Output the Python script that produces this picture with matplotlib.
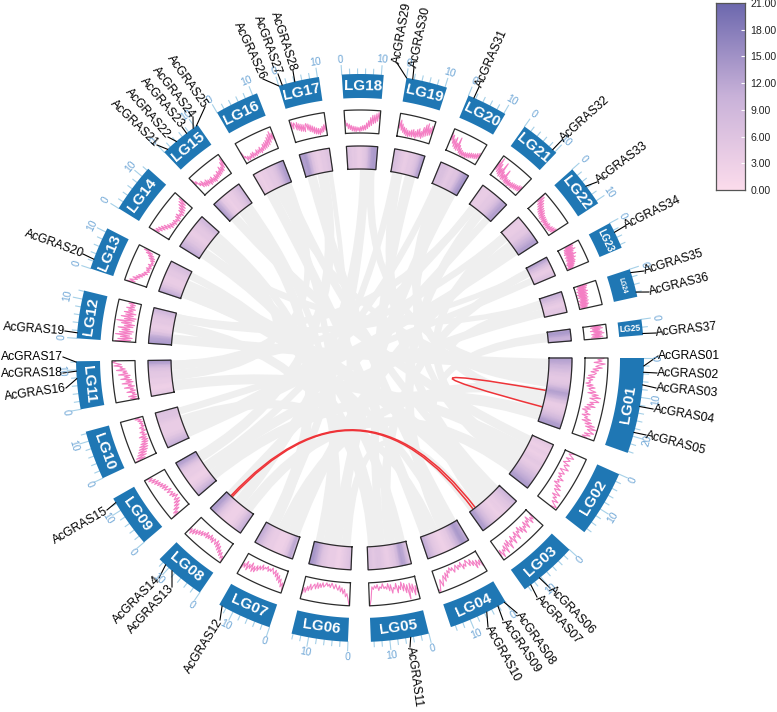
import numpy as np
import matplotlib
matplotlib.use("Agg")
import matplotlib.pyplot as plt
from matplotlib.colors import LinearSegmentedColormap
from matplotlib.path import Path
from matplotlib.patches import PathPatch

plt.rcParams["font.family"] = ["Liberation Sans", "DejaVu Sans"]

# chromosome names and lengths (Mb)
sectors = ["LG%02d" % i for i in range(1, 26)]
lengths = [24.4, 17.1, 15.1, 15.2, 14.8, 14.4, 13.9, 13.2, 13.5, 12.5, 12.2, 12.2, 11.0,
           12.5, 10.9, 11.2, 10.4, 10.6, 10.5, 10.4, 10.4, 10.8, 6.9, 7.2, 4.0]

# line track, first value is the clockwise start of the sector
line_lg01 = [82, 56, 74, 40, 88, 62, 48, 76, 36, 60, 28, 52, 44, 18, 46, 12, 38, 22, 30, 10, 42, 16, 52, 26, 36, 58,
             24, 70, 44, 82, 36, 62, 78, 40, 58, 30, 66, 22, 48, 14, 38, 28, 52, 18, 44, 32, 60, 24, 68, 40, 84, 46,
             96, 58, 72, 90, 50, 78, 44, 66]
line_lg02 = [44, 22, 36, 50, 18, 40, 28, 14, 46, 24, 34, 52, 16, 30, 44, 20, 38, 26, 54, 30, 42, 22, 58, 34, 66, 40,
             54, 78, 44, 70, 56, 88, 62, 76, 96, 70]
line_lg03 = [22, 50, 34, 60, 18, 44, 30, 64, 26, 52, 40, 70, 32, 58, 24, 48, 36, 72, 30, 54, 44, 76, 34, 60, 48, 84,
             36, 66, 42, 88, 48, 72, 60, 92, 54, 82]
line_lg04 = [72, 40, 62, 34, 68, 30, 50, 18, 44, 26, 12, 38, 24, 44, 10, 30, 18, 36, 12, 26, 40, 16, 28, 12, 34, 20,
             50, 26, 62, 34, 54, 78, 46, 70, 96, 84]
line_lg05 = [72, 40, 80, 30, 66, 24, 92, 28, 62, 20, 52, 12, 44, 26, 56, 14, 38, 30, 54, 16, 42, 10, 34, 22, 30, 8,
             28, 20, 36, 10, 26, 14, 30, 18, 72, 100]
line_lg06 = [98, 72, 48, 62, 30, 50, 24, 42, 16, 36, 26, 12, 32, 20, 8, 28, 14, 24, 10, 22, 30, 12, 34, 18, 40, 16,
             44, 24, 34, 52, 28, 58, 40, 68, 48, 78]
line_lg07 = [86, 56, 76, 42, 62, 30, 54, 22, 42, 14, 34, 24, 10, 28, 18, 32, 12, 26, 20, 36, 14, 40, 24, 50, 28, 60,
             36, 64, 26, 56, 38, 68, 30, 62, 44, 70]
line_lg08 = [92, 70, 84, 58, 78, 52, 70, 40, 64, 34, 56, 26, 50, 38, 28, 52, 30, 46, 24, 48, 32, 52, 26, 50, 36, 58,
             38, 62, 44, 70, 50, 78, 54, 84, 62, 76]
line_lg09 = [84, 56, 76, 42, 66, 32, 54, 20, 46, 14, 38, 26, 12, 36, 18, 42, 22, 30, 44, 20, 36, 48, 26, 52, 30, 56,
             38, 62, 44, 70, 48, 78, 56, 86, 66, 90]
line_lg10 = [96, 50, 88, 40, 78, 34, 70, 26, 62, 20, 56, 18, 46, 12, 38, 8, 34, 12, 42, 6, 26, 14, 32, 4, 22, 10,
             28, 4, 18, 8, 22, 6, 26, 10, 36, 14]
line_lg11 = [4, 34, 8, 42, 6, 24, 12, 46, 8, 30, 16, 54, 10, 36, 22, 62, 14, 44, 20, 66, 28, 50, 24, 74, 34, 54,
             38, 82, 44, 66, 56, 92, 60, 80, 98, 84]
line_lg12 = [88, 22, 78, 16, 68, 28, 90, 20, 74, 14, 64, 30, 82, 18, 56, 12, 70, 26, 92, 16, 60, 10, 76, 24, 58, 14,
             66, 28, 50, 20, 60, 26, 46, 24, 54, 30]
line_lg13 = [88, 54, 80, 62, 48, 70, 40, 58, 30, 50, 24, 38, 14, 32, 20, 10, 26, 12, 30, 8, 22, 12, 28, 6, 18, 10,
             26, 8, 36, 12, 44, 20, 58, 30, 72, 46]
line_lg14 = [80, 52, 72, 44, 66, 36, 58, 28, 50, 20, 40, 12, 34, 14, 28, 8, 30, 12, 24, 6, 32, 10, 36, 14, 26, 8,
             38, 12, 44, 16, 54, 22, 62, 30, 70, 36]
line_lg15 = [84, 58, 70, 42, 54, 28, 56, 24, 44, 18, 48, 20, 40, 12, 38, 16, 42, 14, 32, 10, 40, 16, 36, 18, 46, 20,
             42, 22, 56, 26, 50, 28, 68, 38, 82, 48]
line_lg16 = [52, 24, 30, 8, 26, 6, 22, 10, 30, 6, 32, 10, 24, 8, 34, 12, 30, 14, 38, 10, 32, 16, 44, 18, 48, 20,
             54, 24, 64, 28, 74, 36, 84, 46, 72, 40]
line_lg17 = [62, 90, 58, 84, 76, 50, 82, 46, 74, 40, 70, 38, 66, 34, 62, 68, 38, 64, 30, 58, 26, 52, 18, 46, 14, 40,
             12, 36, 8, 34, 14, 42, 18, 48, 24, 54]
line_lg18 = [56, 32, 44, 20, 40, 16, 34, 10, 30, 8, 28, 6, 26, 10, 24, 6, 28, 10, 32, 12, 34, 14, 44, 20, 54, 28,
             68, 34, 78, 42, 80, 46, 86, 54, 92, 66]
line_lg19 = [66, 36, 72, 28, 56, 20, 44, 14, 40, 8, 34, 6, 32, 10, 38, 8, 42, 12, 36, 6, 46, 14, 52, 16, 42, 12,
             62, 20, 76, 26, 84, 32, 68, 36, 78, 42]
line_lg20 = [82, 50, 74, 38, 60, 26, 70, 20, 48, 16, 76, 18, 44, 10, 34, 6, 28, 4, 24, 6, 26, 4, 28, 8, 32, 10,
             36, 14, 38, 18, 42, 20, 48, 24, 54, 30]
line_lg21 = [72, 32, 92, 26, 68, 20, 52, 14, 84, 16, 46, 10, 38, 12, 64, 10, 34, 6, 30, 8, 32, 6, 28, 10, 32, 8,
             34, 12, 36, 14, 38, 16, 44, 18, 46, 22]
line_lg22 = [92, 50, 84, 42, 74, 36, 66, 28, 58, 22, 52, 18, 48, 14, 42, 10, 36, 12, 34, 6, 32, 10, 30, 6, 28, 8,
             32, 6, 28, 8, 34, 10, 38, 14, 42, 18]
line_lg23 = [72, 32, 68, 24, 64, 22, 72, 20, 60, 16, 56, 22, 66, 14, 52, 18, 58, 12, 48, 16, 50, 10, 46, 6, 40, 10,
             36, 4, 30, 8]
line_lg24 = [60, 16, 56, 10, 52, 14, 48, 6, 54, 12, 46, 4, 50, 10, 44, 6, 48, 14, 42, 4, 46, 8, 40, 4, 44, 6,
             38, 4, 34, 10]
line_lg25 = [36, 78, 32, 84, 40, 72, 30, 80, 44, 88, 34, 76, 38, 82, 32, 70]
line_values = [line_lg01, line_lg02, line_lg03, line_lg04, line_lg05, line_lg06, line_lg07, line_lg08, line_lg09,
               line_lg10, line_lg11, line_lg12, line_lg13, line_lg14, line_lg15, line_lg16, line_lg17, line_lg18,
               line_lg19, line_lg20, line_lg21, line_lg22, line_lg23, line_lg24, line_lg25]

# heatmap track (0-21)
heat_lg01 = [13, 12, 10, 8, 6, 5, 5, 6, 10, 13, 11, 7, 4, 4, 5, 7, 10, 13, 14]
heat_lg02 = [5, 4, 3, 4, 3, 4, 5, 4, 5, 7, 9, 11, 13, 14]
heat_lg03 = [10, 8, 6, 5, 4, 4, 3, 4, 5, 7, 10, 13, 14]
heat_lg04 = [10, 13, 14, 11, 8, 5, 4, 3, 3, 4, 5, 7, 10, 12]
heat_lg05 = [5, 8, 12, 13, 9, 6, 5, 4, 4, 5, 6, 6, 5, 6, 7]
heat_lg06 = [8, 6, 5, 4, 3, 3, 4, 4, 4, 5, 6, 9, 12, 14, 15]
heat_lg07 = [8, 12, 7, 4, 3, 3, 3, 4, 4, 5, 7, 10, 12]
heat_lg08 = [11, 9, 6, 4, 3, 3, 3, 4, 6, 10, 13, 14]
heat_lg09 = [12, 9, 6, 4, 3, 3, 4, 4, 5, 8, 12, 14]
heat_lg10 = [11, 9, 7, 5, 4, 4, 4, 4, 5, 6, 6, 7]
heat_lg11 = [5, 4, 3, 3, 4, 4, 5, 5, 6, 8, 12, 15]
heat_lg12 = [14, 13, 12, 8, 5, 4, 4, 5, 5, 6, 8, 10]
heat_lg13 = [12, 10, 7, 5, 4, 4, 4, 5, 5, 6, 7, 8]
heat_lg14 = [12, 10, 8, 6, 5, 4, 4, 5, 5, 6, 8, 9]
heat_lg15 = [14, 12, 9, 5, 4, 3, 4, 4, 5, 6, 8, 10]
heat_lg16 = [4, 4, 3, 4, 4, 5, 5, 6, 8, 11, 13, 14]
heat_lg17 = [14, 13, 14, 11, 7, 5, 4, 4, 5, 5, 6, 6]
heat_lg18 = [7, 6, 5, 5, 4, 4, 5, 6, 10, 13, 14, 13]
heat_lg19 = [8, 7, 6, 5, 4, 4, 5, 5, 6, 8, 12, 14]
heat_lg20 = [8, 7, 7, 6, 5, 5, 6, 6, 9, 12, 14, 15]
heat_lg21 = [5, 4, 4, 4, 5, 5, 6, 8, 11, 13, 12]
heat_lg22 = [5, 4, 4, 4, 5, 5, 7, 9, 11, 13, 13]
heat_lg23 = [13, 12, 9, 7, 5, 4, 4, 5, 6, 7]
heat_lg24 = [11, 10, 8, 6, 5, 4, 4, 5, 5, 6]
heat_lg25 = [12, 14, 13, 11, 10, 12]
heat_values = [heat_lg01, heat_lg02, heat_lg03, heat_lg04, heat_lg05, heat_lg06, heat_lg07, heat_lg08, heat_lg09,
               heat_lg10, heat_lg11, heat_lg12, heat_lg13, heat_lg14, heat_lg15, heat_lg16, heat_lg17, heat_lg18,
               heat_lg19, heat_lg20, heat_lg21, heat_lg22, heat_lg23, heat_lg24, heat_lg25]

# syntenic blocks: sector, start, end, sector, start, end
grey_links = [
    (1, 0.3, 4.5, 12, 0.5, 4), (1, 4.5, 8, 18, 7.2, 10.2), (1, 8, 11, 24, 0.5, 4), (1, 11.5, 15.5, 7, 5, 9),
    (1, 15.5, 19.5, 20, 1.5, 5.5), (1, 19.5, 24, 9, 0.5, 4.5),
    (2, 0.5, 4, 15, 0.5, 4), (2, 4, 8, 11, 0.5, 4.5), (2, 8, 12, 22, 0.5, 4), (2, 12, 16.5, 8, 1, 5),
    (3, 0.5, 4, 19, 1, 4.5), (3, 4, 8, 13, 0.5, 4.5), (3, 8, 11.5, 25, 0.2, 3.8), (3, 11.5, 15, 6, 0.5, 4),
    (4, 0.3, 4, 17, 0.5, 4), (4, 4, 8, 21, 3.5, 7), (4, 8, 11, 10, 5, 9), (4, 11, 15, 16, 0.5, 4),
    (5, 0.3, 4, 14, 0.5, 4.5), (5, 4, 8, 23, 0.3, 3.5), (5, 8, 11, 19, 5.5, 9.5), (5, 11, 14.5, 12, 5, 9),
    (6, 4, 8, 20, 6, 10), (6, 8, 11, 15, 8, 10.5), (6, 11, 14, 16, 5, 7.5),
    (7, 0.3, 5, 22, 4.5, 8), (7, 9, 13.5, 15, 4.5, 8),
    (8, 5, 9, 18, 4.6, 7), (8, 9.5, 13, 21, 7.5, 10.2),
    (9, 4.5, 8.5, 24, 4, 7), (9, 9, 13, 17, 4.5, 8.5),
    (10, 0.3, 5, 22, 8, 10.5), (10, 9.5, 12.2, 23, 4, 6.5),
    (11, 4.5, 8.5, 14, 5, 9.5), (11, 8.5, 12, 16, 8, 11),
    (12, 9, 12, 21, 0.5, 3.5),
    (3, 2, 5, 13, 4.5, 7.5), (5, 9, 11.5, 13, 8, 10.8), (6, 1.5, 3.5, 17, 8.5, 10.3),
    (6, 6, 9, 14, 9.5, 12.3), (4, 2, 5, 13, 0.5, 3), (1, 6, 9, 16, 4, 6), (7, 10, 13, 18, 5, 8),
    (8, 6, 9, 19, 0.5, 3), (9, 5, 8, 20, 0.5, 3), (10, 2, 5, 21, 0.5, 3), (11, 9, 12, 22, 0.5, 3),
    (14, 1, 4, 24, 1, 3), (12, 9, 12, 23, 1, 3), (2, 12, 15, 20, 5, 8), (3, 1, 4, 16, 7, 10),
]

red_links = [(1, 12.2, 12.5, 1, 18.6, 18.9), (3, 13.3, 13.5, 8, 10.3, 10.5), (3, 12.3, 12.5, 8, 10.9, 11.1)]

# gene labels: name, sector, position on the sector (Mb)
gene_names = ["AcGRAS%02d" % i for i in range(1, 38)]
gene_sector = [1, 1, 1, 1, 1, 3, 3, 4, 4, 4, 5, 7, 8, 8, 9, 11, 11, 11, 12, 13, 15, 15, 15, 15, 15, 17, 17, 17,
               19, 19, 20, 21, 22, 23, 24, 24, 25]
gene_pos = [2.0, 3.6, 6.8, 12.3, 19.0, 10.4, 13.2, 0.3, 2.2, 5.4, 4.7, 13.1, 8.9, 11.1, 12.3, 7.8, 12.0, 9.7, 1.4,
            2.5, 1.1, 4.1, 7.4, 9.5, 10.5, 0.0, 0.9, 4.2, 0.0, 1.6, 1.5, 9.2, 5.5, 2.6, 0.9, 6.0, 3.6]
# where the text starts, in pixels, and its rotation
label_x = [658, 657, 656, 653, 646, 550, 537, 517, 503, 488, 410, 220, 172, 159, 107, 66, 63, 63, 65, 83,
           157, 168, 182, 193, 205, 263, 278, 293, 397, 414, 479, 562, 597, 625, 644, 649, 656]
label_y = [356, 373, 388, 409, 435, 588, 597, 613, 620, 627, 647, 620, 587, 578, 510, 388, 357, 373, 331, 254,
           145, 137, 127, 117, 107, 79, 74, 71, 63, 67, 87, 140, 182, 226, 271, 292, 333]
label_rot = [0, -2, -5, -10, -15, -46, -47, -55, -56, -61, -82, 58, 47, 45, 30, 8, 0, 1, -4, -20,
             -44, -49, -50, -52, -55, -65, -70, -72, 80, 78, 66, 42, 37, 26, 17, 14, 6]

cbar_ticks = [0, 3, 6, 9, 12, 15, 18, 21]

CX, CY = 360, 358
R_LINK = 189
R_HEAT = (189, 212)
R_LINE = (225, 248)
R_BLUE = (260, 284)
MB_DEG = 0.8
gap = (360 - sum(lengths) * MB_DEG) / len(lengths)
starts = [sum(lengths[:i]) * MB_DEG + i * gap for i in range(len(lengths))]

BLUE = "#1f77b4"
TICK = "#a5d0e8"
TICKTXT = "#6ea6d6"
PINK = "#f47fc4"
GREY = "#efefef"
RED = "#ee3338"
EDGE = "#2b2b2b"
cmap = LinearSegmentedColormap.from_list("heat", ["#fcdcec", "#c9b2d9", "#6c68ae"])


def xy(theta, r):
    t = np.radians(theta)
    return CX + r * np.cos(t), CY + r * np.sin(t)


def ang(s, mb):
    return starts[s - 1] + mb * MB_DEG


def arc(th0, th1, r, n=12):
    t = np.linspace(th0, th1, n)
    return list(zip(*xy(t, r)))


def band(ax, th0, th1, r0, r1, **kw):
    pts = arc(th0, th1, r0, 24) + arc(th1, th0, r1, 24)
    ax.fill([p[0] for p in pts], [p[1] for p in pts], **kw)


def box(ax, th0, th1, r0, r1, zorder=4):
    pts = arc(th0, th1, r0, 24) + arc(th1, th0, r1, 24)
    pts.append(pts[0])
    ax.plot([p[0] for p in pts], [p[1] for p in pts], color=EDGE, lw=0.9, zorder=zorder)


def tangent_rot(theta):
    rot = 90 - theta
    while rot < -90:
        rot += 180
    return rot


def ribbon(ax, a, a0, a1, b, b0, b1):
    # control points sit off the centre so wide blocks stay wide where they cross
    th_a0, th_a1, th_b0, th_b1 = ang(a, a0), ang(a, a1), ang(b, b0), ang(b, b1)
    w = 0.42 * R_LINK * np.radians((th_a1 - th_a0 + th_b1 - th_b0) / 2)
    c1 = xy(th_a1 + ((th_b0 - th_a1) % 360) / 2, w)
    c2 = xy(th_b1 + ((th_a0 - th_b1) % 360) / 2, w)
    p = arc(th_a0, th_a1, R_LINK)
    q = arc(th_b0, th_b1, R_LINK)
    verts = p + [c1, q[0]] + q[1:] + [c2, p[0]]
    codes = [Path.MOVETO] + [Path.LINETO] * (len(p) - 1) + [Path.CURVE3, Path.CURVE3] + \
            [Path.LINETO] * (len(q) - 1) + [Path.CURVE3, Path.CURVE3]
    ax.add_patch(PathPatch(Path(verts, codes), fc=GREY, ec="none", zorder=1))


fig = plt.figure(figsize=(7.77, 7.12), dpi=100)
ax = fig.add_axes([0, 0, 1, 1])
ax.set_xlim(0, 777)
ax.set_ylim(712, 0)
ax.axis("off")

for l in grey_links:
    ribbon(ax, *l)

for a, a0, a1, b, b0, b1 in red_links:
    th0, th1 = ang(a, (a0 + a1) / 2), ang(b, (b0 + b1) / 2)
    verts = [xy(th0, R_LINK), (CX, CY), xy(th1, R_LINK)]
    ax.add_patch(PathPatch(Path(verts, [Path.MOVETO, Path.CURVE3, Path.CURVE3]), fc="none", ec=RED, lw=1.1, zorder=2))

for i, name in enumerate(sectors):
    th0 = starts[i]
    th1 = th0 + lengths[i] * MB_DEG

    # heatmap
    vals = np.array(heat_values[i], dtype=float)
    t = np.linspace(th0, th1, len(vals))
    tt = np.array([t, t])
    rr = np.array([np.full(len(t), R_HEAT[0]), np.full(len(t), R_HEAT[1])])
    X, Y = xy(tt, rr)
    ax.pcolormesh(X, Y, np.array([vals, vals]), cmap=cmap, vmin=0, vmax=21, shading="gouraud", zorder=3)
    box(ax, th0, th1, R_HEAT[0], R_HEAT[1])

    # line track
    vals = np.array(line_values[i], dtype=float) / 100
    t = np.linspace(th0 + 0.1, th1 - 0.1, len(vals))
    lx, ly = xy(t, R_LINE[0] + vals * (R_LINE[1] - R_LINE[0]))
    ax.plot(lx, ly, color=PINK, lw=0.8, zorder=3)
    box(ax, th0, th1, R_LINE[0], R_LINE[1])

    # blue ring with ticks
    band(ax, th0, th1, R_BLUE[0], R_BLUE[1], fc=BLUE, ec="none", zorder=3)
    for mb in np.arange(0, lengths[i], 2):
        major = mb % 10 == 0
        th = ang(i + 1, mb)
        x0, y0 = xy(th, R_BLUE[1])
        x1, y1 = xy(th, R_BLUE[1] + (9 if major else 5))
        ax.plot([x0, x1], [y0, y1], color=TICK, lw=0.8, zorder=2)
        if major:
            tx, ty = xy(th, R_BLUE[1] + 15)
            ax.text(tx, ty, "%d" % mb, color=TICKTXT, fontsize=7.5, ha="center", va="center",
                    rotation=tangent_rot(th), rotation_mode="anchor", zorder=5)

    mid = (th0 + th1) / 2
    tx, ty = xy(mid, sum(R_BLUE) / 2)
    size = 11
    rot = tangent_rot(mid)
    if lengths[i] < 4.5:
        size, rot = 6.2, 4
    elif name == "LG24":
        size = 4.8
    elif name == "LG23":
        size = 7
    ax.text(tx, ty, name, color="white", fontsize=size, fontweight="bold", ha="center", va="center",
            rotation=rot, rotation_mode="anchor", zorder=5)

# gene labels
for name, s, p, lx, ly, rot in zip(gene_names, gene_sector, gene_pos, label_x, label_y, label_rot):
    gx, gy = xy(ang(s, p), R_BLUE[1])
    ax.plot([gx, lx], [gy, ly], color="black", lw=0.8, zorder=4)
    right_side = lx > CX
    ax.text(lx, ly, name, fontsize=8.7, color="black", ha="left" if right_side else "right", va="center",
            rotation=rot, rotation_mode="anchor", zorder=6)

# colour bar
cax = fig.add_axes([716 / 777, 1 - 190 / 712, 29 / 777, 187 / 712])
grad = np.linspace(0, 21, 256).reshape(-1, 1)
cax.imshow(grad, cmap=cmap, aspect="auto", origin="lower", extent=[0, 1, 0, 21], vmin=0, vmax=21)
cax.set_xticks([])
cax.yaxis.tick_right()
cax.set_yticks(cbar_ticks)
cax.set_yticklabels(["%.2f" % v for v in cbar_ticks], fontsize=7.6, color="#222222")
cax.tick_params(axis="y", direction="in", length=3, color="white", width=0.8, pad=4)
for sp in cax.spines.values():
    sp.set_color("#555555")
    sp.set_linewidth(0.9)

fig.savefig("out.png", dpi=100)
plt.close(fig)
